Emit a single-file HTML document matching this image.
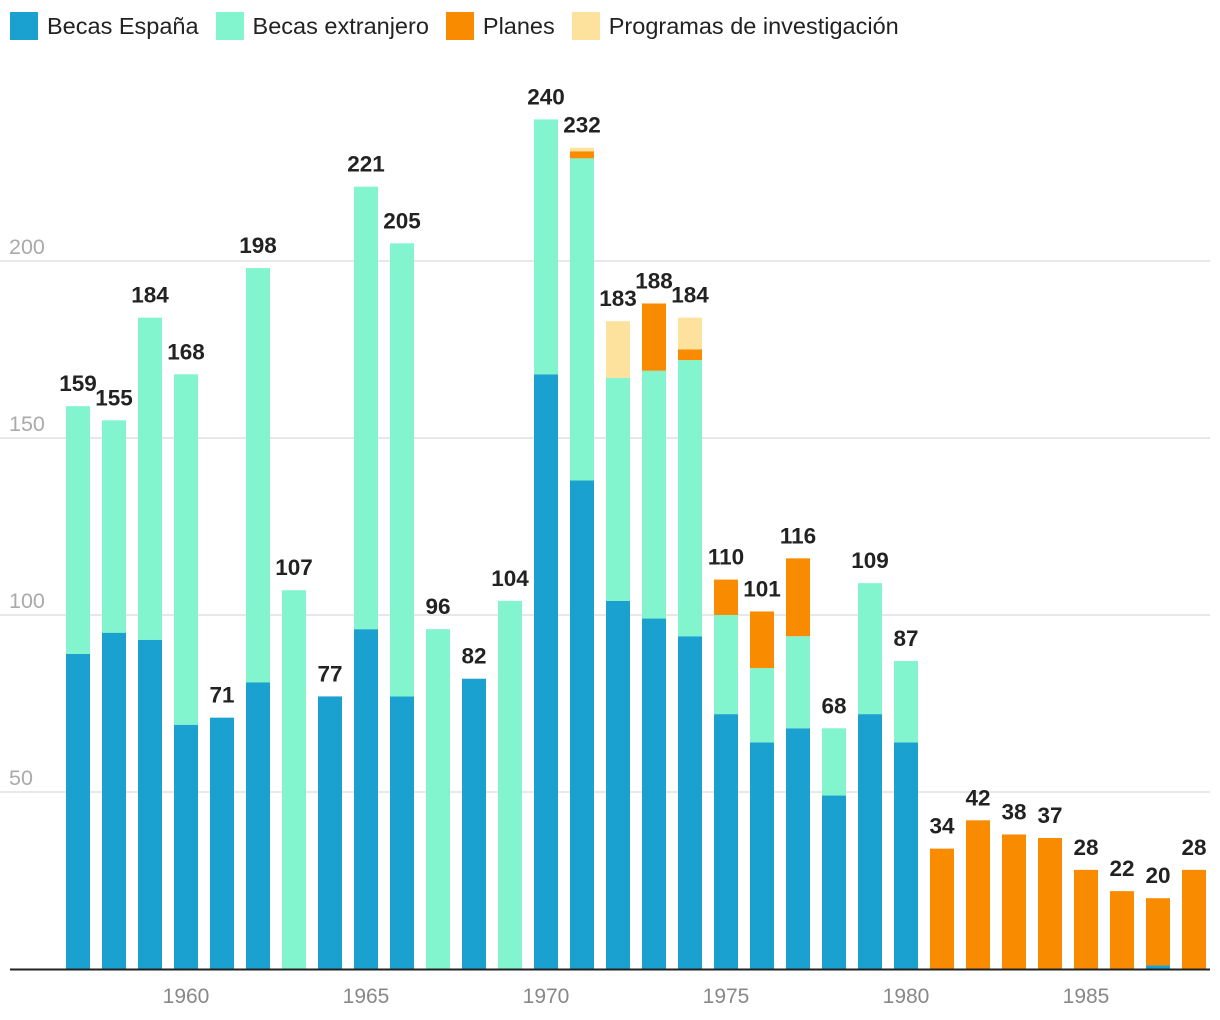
<!DOCTYPE html>
<html><head><meta charset="utf-8">
<style>
body{margin:0;background:#fff;font-family:"Liberation Sans",sans-serif;}
#legend{position:absolute;left:10px;top:12px;display:flex;font-size:23.5px;color:#222;}
.li{display:flex;align-items:center;margin-right:17px;}
.sw{width:28px;height:28px;margin-right:9px;}
</style></head><body>
<div id="legend">
<div class="li"><div class="sw" style="background:#1ba1cf"></div>Becas España</div>
<div class="li"><div class="sw" style="background:#82f5cf"></div>Becas extranjero</div>
<div class="li"><div class="sw" style="background:#f98b00"></div>Planes</div>
<div class="li"><div class="sw" style="background:#fde29e"></div>Programas de investigación</div>
</div>
<svg id="chart" width="1220" height="1020" style="position:absolute;left:0;top:0;z-index:-1"></svg>
<script>
const years=[1957,1958,1959,1960,1961,1962,1963,1964,1965,1966,1967,1968,1969,1970,1971,1972,1973,1974,1975,1976,1977,1978,1979,1980,1981,1982,1983,1984,1985,1986,1987,1988];
const espana=[89,95,93,69,71,81,0,77,96,77,0,82,0,168,138,104,99,94,72,64,68,49,72,64,0,0,0,0,0,0,1,0];
const extranjero=[70,60,91,99,0,117,107,0,125,128,96,0,104,72,91,63,70,78,28,21,26,19,37,23,0,0,0,0,0,0,0,0];
const planes=[0,0,0,0,0,0,0,0,0,0,0,0,0,0,2,0,19,3,10,16,22,0,0,0,34,42,38,37,28,22,19,28];
const programas=[0,0,0,0,0,0,0,0,0,0,0,0,0,0,1,16,0,9,0,0,0,0,0,0,0,0,0,0,0,0,0,0];
const yTicks=[50,100,150,200];
const xTicks=[1960,1965,1970,1975,1980,1985];
const series=[espana,extranjero,planes,programas];
const colors=["#1ba1cf","#82f5cf","#f98b00","#fde29e"];
const names=["espana","extranjero","planes","programas"];
const svg=document.getElementById('chart');
const NS="http://www.w3.org/2000/svg";
const y=v=>969-v*3.54;
const x=yr=>186+(yr-1960)*36;
function mk(t,a){const e=document.createElementNS(NS,t);for(const k in a)e.setAttribute(k,a[k]);svg.appendChild(e);return e;}
yTicks.forEach(t=>{
 const l=mk('line',{x1:0,x2:1210,y1:y(t),y2:y(t),stroke:'#e0e0e0','stroke-width':1.5});
 
 
 const tx=mk('text',{x:9,y:y(t)-7,'font-size':21.5,fill:'#aaa'});tx.textContent=t;
 
 
});
years.forEach((yr,i)=>{
 let acc=0;
 series.forEach((s,j)=>{
  if(s[i]>0){
   const r=mk('rect',{x:x(yr)-12,width:24,y:y(acc+s[i]),height:s[i]*3.54,fill:colors[j]});
   
   
  }
  acc+=s[i];
 });
 const t=mk('text',{x:x(yr),y:y(acc)-15,'font-size':22.5,'font-weight':'bold','text-anchor':'middle',fill:'#222'});
 t.textContent=acc;
 
 
});
const ax=mk('line',{x1:10,x2:1210,y1:969.5,y2:969.5,stroke:'#222','stroke-width':2});


xTicks.forEach(t=>{
 const tx=mk('text',{x:x(t),y:1003,'font-size':21,fill:'#888','text-anchor':'middle'});tx.textContent=t;
 
 
});
</script>
</body></html>
